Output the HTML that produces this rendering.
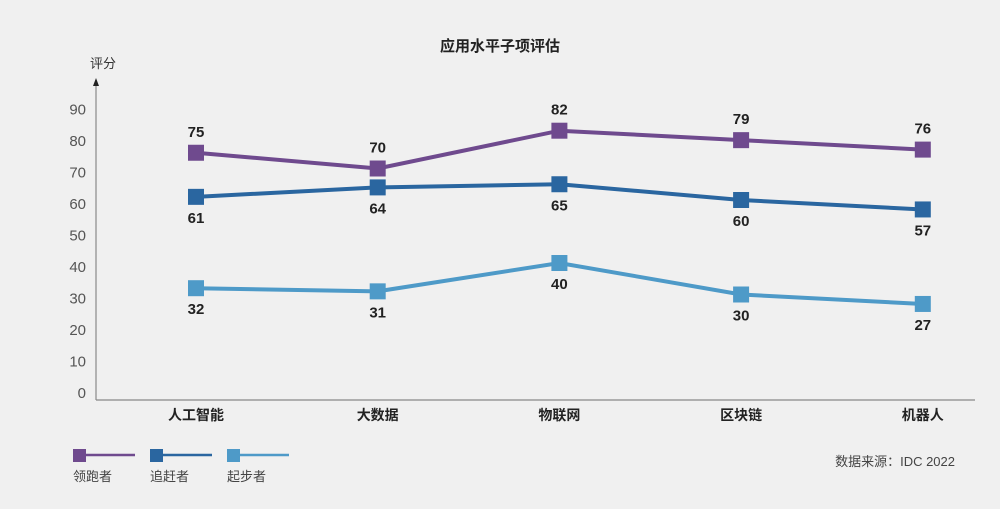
<!DOCTYPE html>
<html><head><meta charset="utf-8"><style>
body{margin:0;background:#f0f0f0;width:1000px;height:509px;overflow:hidden;font-family:"Liberation Sans","Noto Sans CJK SC",sans-serif}
</style></head><body>
<svg id="c" width="1000" height="509" style="position:absolute;left:0;top:0">
<text x="500" y="51" text-anchor="middle" font-size="15" font-weight="bold" fill="#222">应用水平子项评估</text>
<text x="103" y="68" text-anchor="middle" font-size="13" fill="#333">评分</text>
<line x1="96" y1="80" x2="96" y2="400" stroke="#888" stroke-width="1.2"/>
<polygon points="93,86 99,86 96,78" fill="#222"/>
<line x1="96" y1="400" x2="975" y2="400" stroke="#888" stroke-width="1.2"/>
<g id="g"></g>
<text x="955" y="466" text-anchor="end" font-size="13" fill="#444">数据来源：IDC 2022</text>
</svg>
<script>
const categories=["人工智能","大数据","物联网","区块链","机器人"];
const leaders=[75,70,82,79,76];
const chasers=[61,64,65,60,57];
const starters=[32,31,40,30,27];
const yTicks=[0,10,20,30,40,50,60,70,80,90];
const seriesNames=["领跑者","追赶者","起步者"];
const colors=["#6f4a8e","#2a66a0","#4e9ac8"];
const ns="http://www.w3.org/2000/svg",g=document.getElementById('g');
const x=i=>196+i*181.7, y=v=>392-v*3.15, yp=v=>y(v)-3;
function mk(t,a){const e=document.createElementNS(ns,t);for(const k in a)e.setAttribute(k,a[k]);g.appendChild(e);return e;}
yTicks.forEach(v=>{const t=mk('text',{x:86,y:y(v)+6,'text-anchor':'end','font-size':15,fill:'#555'});t.textContent=v;

});
categories.forEach((c,i)=>{const t=mk('text',{x:x(i),y:420,'text-anchor':'middle','font-size':14,'font-weight':'bold',fill:'#222'});t.textContent=c;

});
[leaders,chasers,starters].forEach((s,k)=>{
const p=mk('polyline',{points:s.map((v,i)=>x(i)+','+yp(v)).join(' '),fill:'none',stroke:colors[k],'stroke-width':4});


s.forEach((v,i)=>{const r=mk('rect',{x:x(i)-8,y:yp(v)-8,width:16,height:16,fill:colors[k]});


const t=mk('text',{x:x(i),y:k==0?yp(v)-16:yp(v)+26,'text-anchor':'middle','font-size':15,'font-weight':'bold',fill:'#222'});t.textContent=v;

});
const lx=72+k*77;
const ll=mk('line',{x1:lx+8,y1:455,x2:lx+63,y2:455,stroke:colors[k],'stroke-width':2.5});


const lr=mk('rect',{x:lx+1,y:449,width:13,height:13,fill:colors[k]});


const lt=mk('text',{x:lx+1,y:481,'font-size':13,fill:'#444'});lt.textContent=seriesNames[k];


});
</script>
</body></html>
